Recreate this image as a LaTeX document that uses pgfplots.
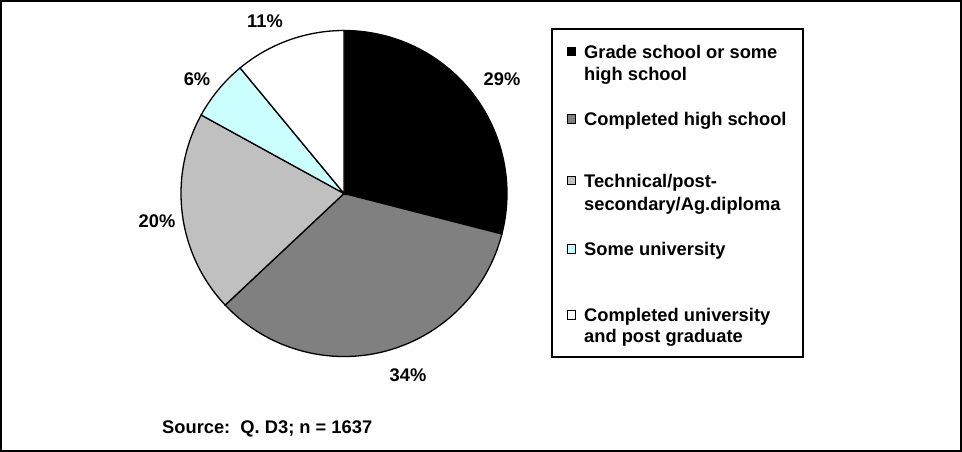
\documentclass[border=0pt]{standalone}
\usepackage{fontspec}
\setmainfont{Liberation Sans}
\usepackage{pgfplots}
\pgfplotsset{compat=1.18}
\definecolor{sdark}{HTML}{808080}
\definecolor{slight}{HTML}{C0C0C0}
\definecolor{scyan}{HTML}{CCFFFF}
\tikzset{lbl/.style={font=\fontsize{18.3}{22}\selectfont\bfseries, inner sep=0pt}}
\begin{document}
\begin{tikzpicture}
\begin{axis}[x=1pt, y=1pt, y dir=reverse, xmin=0, xmax=962, ymin=0, ymax=452,
  hide axis, scale only axis, clip=false]
% outer border
\draw[line width=2pt] (axis cs:1,1) rectangle (axis cs:961,451);
% pie slices: percentages 29, 34, 20, 6, 11, clockwise from 12 o'clock
\def\cx{344}\def\cy{193.5}\def\r{163pt}
\filldraw[fill=black, draw=black, line width=1.3pt] (axis cs:\cx,\cy) -- ++(90:\r)
  arc[start angle=90, end angle={90-3.6*29}, radius=\r] -- cycle;
\filldraw[fill=sdark, draw=black, line width=1.3pt] (axis cs:\cx,\cy) -- ++({90-3.6*29}:\r)
  arc[start angle={90-3.6*29}, end angle={90-3.6*63}, radius=\r] -- cycle;
\filldraw[fill=slight, draw=black, line width=1.3pt] (axis cs:\cx,\cy) -- ++({90-3.6*63}:\r)
  arc[start angle={90-3.6*63}, end angle={90-3.6*83}, radius=\r] -- cycle;
\filldraw[fill=scyan, draw=black, line width=1.3pt] (axis cs:\cx,\cy) -- ++({90-3.6*83}:\r)
  arc[start angle={90-3.6*83}, end angle={90-3.6*89}, radius=\r] -- cycle;
\filldraw[fill=white, draw=black, line width=1.3pt] (axis cs:\cx,\cy) -- ++({90-3.6*89}:\r)
  arc[start angle={90-3.6*89}, end angle={90-3.6*100}, radius=\r] -- cycle;
% percentage labels
\node[lbl] at (axis cs:502,79) {29\%};
\node[lbl] at (axis cs:408,375) {34\%};
\node[lbl] at (axis cs:157,221) {20\%};
\node[lbl] at (axis cs:197,79) {6\%};
\node[lbl] at (axis cs:265,21.5) {11\%};
% legend box
\draw[line width=2pt] (axis cs:552,29) rectangle (axis cs:803,357);
% legend markers
\filldraw[fill=black, draw=black, line width=1pt] (axis cs:567,47.5) rectangle (axis cs:575,56);
\filldraw[fill=sdark, draw=black, line width=1pt] (axis cs:567,114.5) rectangle (axis cs:575,123);
\filldraw[fill=slight, draw=black, line width=1pt] (axis cs:567,176) rectangle (axis cs:575,184.5);
\filldraw[fill=scyan, draw=black, line width=1pt] (axis cs:567,244.5) rectangle (axis cs:575,253);
\filldraw[fill=white, draw=black, line width=1pt] (axis cs:567,310.5) rectangle (axis cs:575,319);
% legend text
\node[lbl, anchor=base west] at (axis cs:584,59) {Grade school or some};
\node[lbl, anchor=base west] at (axis cs:584,81) {high school};
\node[lbl, anchor=base west] at (axis cs:584,125) {Completed high school};
\node[lbl, anchor=base west] at (axis cs:584,187) {Technical/post-};
\node[lbl, anchor=base west] at (axis cs:584,210) {secondary/Ag.diploma};
\node[lbl, anchor=base west] at (axis cs:584,255) {Some university};
\node[lbl, anchor=base west] at (axis cs:584,321) {Completed university};
\node[lbl, anchor=base west] at (axis cs:584,342) {and post graduate};
% source
\node[lbl, anchor=base west] at (axis cs:162,433) {Source:\ \ Q. D3; n = 1637};
\end{axis}
\end{tikzpicture}
\end{document}
